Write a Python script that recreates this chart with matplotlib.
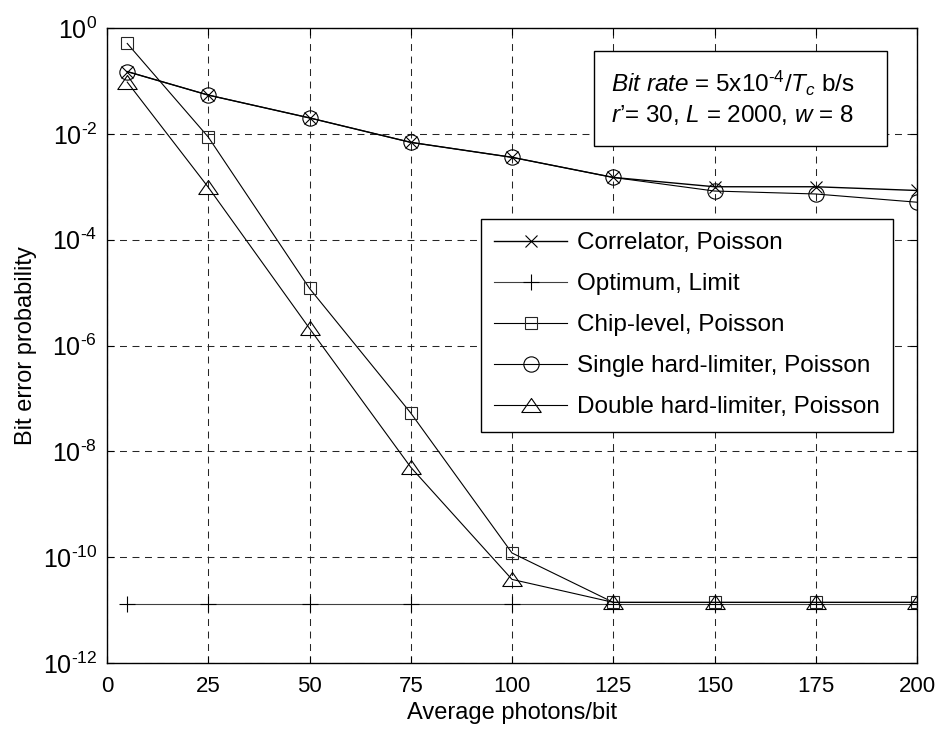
import matplotlib
matplotlib.use("Agg")
import matplotlib.pyplot as plt
from matplotlib.path import Path
from matplotlib.patches import Rectangle
import numpy as np

plt.rcParams['font.family'] = ['Liberation Sans', 'DejaVu Sans']
plt.rcParams['mathtext.fontset'] = 'custom'
plt.rcParams['mathtext.rm'] = 'Liberation Sans'
plt.rcParams['mathtext.it'] = 'Liberation Sans:italic'
plt.rcParams['mathtext.bf'] = 'Liberation Sans:bold'
plt.rcParams['lines.scale_dashes'] = False

# ---- data ----
photons = [5, 25, 50, 75, 100, 125, 150, 175, 200]
correlator = [0.15, 0.054, 0.020, 6.9e-3, 3.6e-3, 1.5e-3, 1.0e-3, 1.0e-3, 8.5e-4]
optimum = [1.3e-11, 1.3e-11, 1.3e-11, 1.3e-11, 1.3e-11, 1.3e-11, 1.3e-11, 1.3e-11, 1.3e-11]
chip = [0.51, 8.7e-3, 1.2e-5, 5.3e-8, 1.2e-10, 1.4e-11, 1.4e-11, 1.4e-11, 1.4e-11]
single = [0.15, 0.054, 0.020, 6.9e-3, 3.6e-3, 1.5e-3, 8.3e-4, 7.3e-4, 5.1e-4]
double = [0.095, 9.8e-4, 2.1e-6, 5.0e-9, 3.8e-11, 1.4e-11, 1.4e-11, 1.4e-11, 1.4e-11]

labels = ["Correlator, Poisson", "Optimum, Limit", "Chip-level, Poisson",
          "Single hard-limiter, Poisson", "Double hard-limiter, Poisson"]
xticks = [0, 25, 50, 75, 100, 125, 150, 175, 200]
yticks = [1e0, 1e-2, 1e-4, 1e-6, 1e-8, 1e-10, 1e-12]
ytick_labels = [r"$10^{0}$", r"$10^{\text{-}2}$", r"$10^{\text{-}4}$", r"$10^{\text{-}6}$",
                r"$10^{\text{-}8}$", r"$10^{\text{-}10}$", r"$10^{\text{-}12}$"]

W, H = 938, 729
fig = plt.figure(figsize=(W / 100, H / 100), dpi=100)
L, R, T, B = 107, 917, 28, 663
ax = fig.add_axes([L / W, 1 - B / H, (R - L) / W, (B - T) / H])

tri = Path([(-1, -0.72), (1, -0.72), (0, 0.72), (-1, -0.72)],
           [Path.MOVETO, Path.LINETO, Path.LINETO, Path.CLOSEPOLY])

lw = 0.8
mew = 0.8
ax.semilogy(photons, optimum, color='0.25', lw=lw, marker='+', ms=12, mew=mew,
            mec='black', label=labels[1], zorder=3)
ax.semilogy(photons, correlator, color='black', lw=1.0, marker='x', ms=9, mew=mew,
            label=labels[0], zorder=4)
ax.semilogy(photons, chip, color='black', lw=lw, marker='s', ms=8.5, mew=mew,
            mfc='none', mec='0.15', label=labels[2], zorder=4)
ax.semilogy(photons, single, color='black', lw=lw, marker='o', ms=11, mew=mew,
            mfc='none', label=labels[3], zorder=4)
ax.semilogy(photons, double, color='black', lw=lw, marker=tri, ms=14, mew=mew,
            mfc='none', label=labels[4], zorder=4)

ax.set_xlim(0, 200)
ax.set_ylim(1e-12, 1e0)
ax.set_xticks(xticks)
ax.set_xticklabels([str(v) for v in xticks], fontsize=16)
ax.set_yticks(yticks)
ax.set_yticklabels(ytick_labels, fontsize=18)
ax.yaxis.set_minor_locator(matplotlib.ticker.NullLocator())
ax.tick_params(direction='in', length=5, width=0.8, top=True, right=True)
ax.tick_params(axis='x', pad=9)
ax.tick_params(axis='y', pad=7)
for s in ax.spines.values():
    s.set_linewidth(1.0)

ax.grid(True, which='major', color='0.15', lw=0.75, linestyle=(0, (5, 4)))
ax.set_axisbelow(True)

ax.set_xlabel("Average photons/bit", fontsize=17, labelpad=4)
ax.set_ylabel("Bit error probability", fontsize=17, labelpad=4)

# legend in desired order
handles, labs = ax.get_legend_handles_labels()
order = [labs.index(l) for l in labels]
leg = ax.legend([handles[i] for i in order], [labs[i] for i in order],
                loc='upper right', bbox_to_anchor=((893 - L) / (R - L), (B - 219) / (B - T)),
                borderaxespad=0, fontsize=17.5, numpoints=1, handlelength=3.0,
                handletextpad=0.4, labelspacing=0.78, borderpad=0.55,
                fancybox=False, framealpha=1, edgecolor='black')
leg.get_frame().set_linewidth(1.0)

# annotation box
x0 = (594 - L) / (R - L)
x1 = (887 - L) / (R - L)
y0 = (B - 146) / (B - T)
y1 = (B - 51) / (B - T)
ax.add_patch(Rectangle((x0, y0), x1 - x0, y1 - y0, transform=ax.transAxes,
                       fc='white', ec='black', lw=1.0, zorder=6))
tx = (611 - L) / (R - L)
ax.text(tx, (B - 83) / (B - T),
        r"$\mathit{Bit\ rate}$ = 5x10$^{\text{-}4}$/$\mathit{T}_{c}$ b/s",
        transform=ax.transAxes, fontsize=17.5, va='center', ha='left', zorder=7)
ax.text(tx, (B - 115) / (B - T),
        "$\\mathit{r\u2019}$= 30, $\\mathit{L}$ = 2000, $\\mathit{w}$ = 8",
        transform=ax.transAxes, fontsize=17.5, va='center', ha='left', zorder=7)

fig.savefig("out.png", dpi=100)
